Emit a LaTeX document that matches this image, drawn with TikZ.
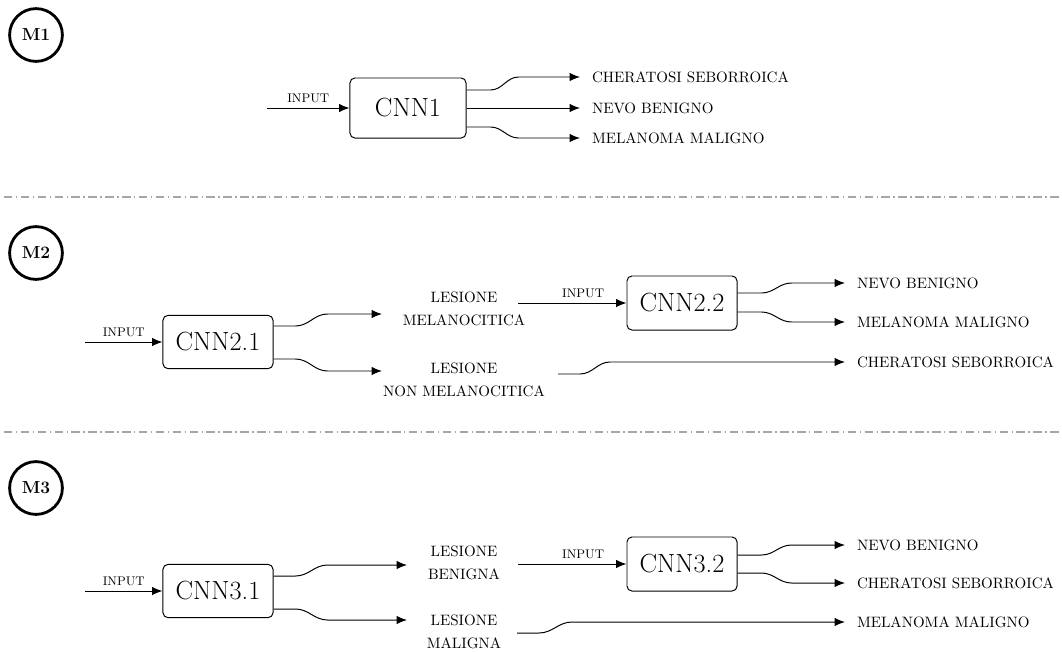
\documentclass[tikz,border=0pt]{standalone}
\usetikzlibrary{arrows.meta}
\begin{document}
\begin{tikzpicture}[x=0.025cm, y=-0.025cm,
    net/.style={draw, rounded corners=3.5pt, line width=0.7pt, inner sep=0pt,
        minimum width=2.75cm, minimum height=1.33cm, font=\fontsize{18.7}{22}\selectfont},
    modcirc/.style={draw, circle, line width=2pt, minimum size=1.32cm, inner sep=0pt,
        font=\fontsize{12.4}{14}\selectfont\bfseries},
    arr/.style={-{Latex[length=2.6mm,width=2.1mm]}, line width=0.7pt},
    inlbl/.style={above, font=\fontsize{8.9}{10}\selectfont},
    outlbl/.style={anchor=west, inner sep=0pt, outer sep=3mm, font=\fontsize{10.7}{13}\selectfont},
    midlbl/.style={align=center, font=\fontsize{10.7}{16.3}\selectfont},
    sepline/.style={gray!70, line width=0.8pt, dash pattern=on 6pt off 2.5pt on 1pt off 2.5pt}]
    \useasboundingbox (0,0) rectangle (1062,651);

    % M1
    \node[modcirc] (m1) at (36,35) {M1};
    \node[net, minimum width=2.9cm, minimum height=1.5cm] (cnn1) at (408,108) {CNN1};
    \coordinate (in1) at (267,108);
    \draw[arr] (in1) -- node[inlbl] {INPUT} (cnn1);
    \node[outlbl] (cs1) at (580,77) {CHERATOSI SEBORROICA};
    \node[outlbl] (nb1) at (580,108) {NEVO BENIGNO};
    \node[outlbl] (mm1) at (580,138) {MELANOMA MALIGNO};
    \draw[arr] (cnn1.east |- 0,90) -- ++(24,0) to[out=0,in=180] ++(28,-13) -- (cs1.west);
    \draw[arr] (cnn1.east) -- (nb1.west);
    \draw[arr] (cnn1.east |- 0,127) -- ++(24,0) to[out=0,in=180] ++(28,11) -- (mm1.west);

    \draw[sepline] (4,197) -- (1062,197);

    % M2
    \node[modcirc] (m2) at (36,253) {M2};
    \node[net] (cnn21) at (218,342) {CNN2.1};
    \coordinate (in21) at (85,342);
    \draw[arr] (in21) -- node[inlbl] {INPUT} (cnn21);
    \node[midlbl] (lesmel) at (464,308.5) {LESIONE\\MELANOCITICA};
    \node[midlbl] (lesnon) at (464,380) {LESIONE\\NON MELANOCITICA};
    \coordinate (t21a) at (382,314);
    \coordinate (t21b) at (382,371);
    \draw[arr] (cnn21.east |- 0,326) -- ++(22,0) to[out=0,in=180] ++(32,-12) -- (t21a);
    \draw[arr] (cnn21.east |- 0,359) -- ++(22,0) to[out=0,in=180] ++(32,12) -- (t21b);

    \node[net, minimum height=1.35cm] (cnn22) at (682,303) {CNN2.2};
    \coordinate (in22) at (518,303);
    \draw[arr] (in22) -- node[inlbl, pos=0.6] {INPUT} (cnn22);
    \node[outlbl] (nb2) at (845,283) {NEVO BENIGNO};
    \node[outlbl] (mm2) at (845,322) {MELANOMA MALIGNO};
    \node[outlbl] (cs2) at (845,362) {CHERATOSI SEBORROICA};
    \draw[arr] (cnn22.east |- 0,293) -- ++(24,0) to[out=0,in=180] ++(30,-10) -- (nb2.west);
    \draw[arr] (cnn22.east |- 0,312) -- ++(24,0) to[out=0,in=180] ++(30,10) -- (mm2.west);
    \coordinate (s2) at (558,374);
    \draw[arr] (s2) -- ++(22,0) to[out=0,in=180] ++(30,-12) -- (cs2.west);

    \draw[sepline] (4,432) -- (1062,432);

    % M3
    \node[modcirc] (m3) at (36,488) {M3};
    \node[net] (cnn31) at (218,591) {CNN3.1};
    \coordinate (in31) at (85,591);
    \draw[arr] (in31) -- node[inlbl] {INPUT} (cnn31);
    \node[midlbl] (lesben) at (464,562.5) {LESIONE\\BENIGNA};
    \node[midlbl] (lesmal) at (464,632) {LESIONE\\MALIGNA};
    \coordinate (t31a) at (407,565);
    \coordinate (t31b) at (407,620);
    \draw[arr] (cnn31.east |- 0,576) -- ++(22,0) to[out=0,in=180] ++(32,-11) -- (t31a);
    \draw[arr] (cnn31.east |- 0,609) -- ++(22,0) to[out=0,in=180] ++(32,11) -- (t31b);

    \node[net, minimum height=1.35cm] (cnn32) at (682,564) {CNN3.2};
    \coordinate (in32) at (518,564);
    \draw[arr] (in32) -- node[inlbl, pos=0.6] {INPUT} (cnn32);
    \node[outlbl] (nb3) at (845,545) {NEVO BENIGNO};
    \node[outlbl] (cs3) at (845,583) {CHERATOSI SEBORROICA};
    \node[outlbl] (mm3) at (845,622) {MELANOMA MALIGNO};
    \draw[arr] (cnn32.east |- 0,555) -- ++(24,0) to[out=0,in=180] ++(30,-10) -- (nb3.west);
    \draw[arr] (cnn32.east |- 0,573) -- ++(24,0) to[out=0,in=180] ++(30,10) -- (cs3.west);
    \coordinate (s3) at (517,633);
    \draw[arr] (s3) -- ++(22,0) to[out=0,in=180] ++(33,-11) -- (mm3.west);
\end{tikzpicture}
\end{document}
